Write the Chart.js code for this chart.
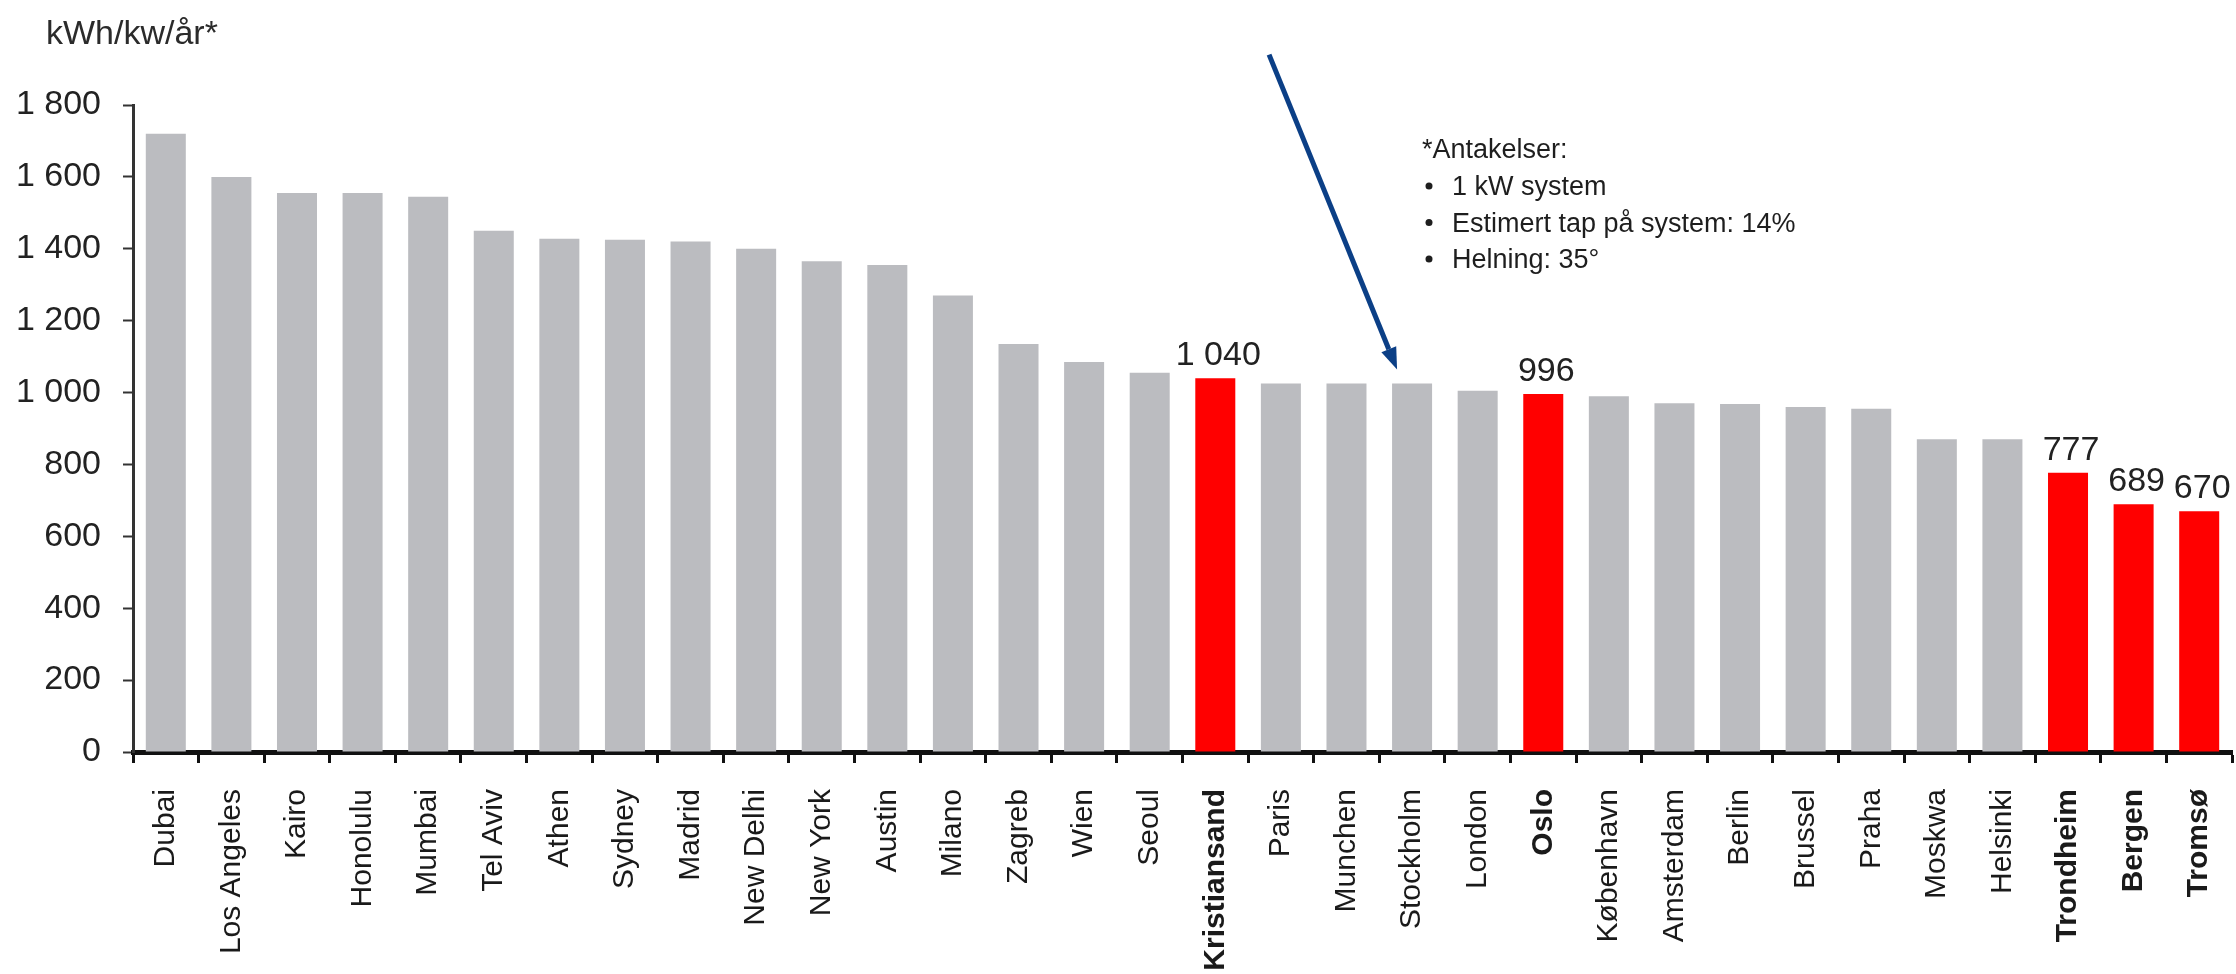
<!DOCTYPE html>
<html>
<head>
<meta charset="utf-8">
<script src="https://cdn.jsdelivr.net/npm/chart.js@4"></script>
<style>
  html, body { margin: 0; padding: 0; background: #fff; }
  #wrap { width: 2236px; height: 974px; }
</style>
</head>
<body>
<div id="wrap"><canvas id="chart" width="2236" height="974"></canvas></div>
<script>
// Annual solar yield per installed kW (kWh/kW/year)
const cities = ['Dubai', 'Los Angeles', 'Kairo', 'Honolulu', 'Mumbai', 'Tel Aviv', 'Athen', 'Sydney',
    'Madrid', 'New Delhi', 'New York', 'Austin', 'Milano', 'Zagreb', 'Wien', 'Seoul', 'Kristiansand',
    'Paris', 'Munchen', 'Stockholm', 'London', 'Oslo', 'København', 'Amsterdam', 'Berlin', 'Brussel',
    'Praha', 'Moskwa', 'Helsinki', 'Trondheim', 'Bergen', 'Tromsø'];
const yieldValues = [1720, 1600, 1555, 1555, 1545, 1450, 1428, 1425, 1420, 1400, 1365, 1355, 1270,
    1135, 1085, 1055, 1040, 1025, 1025, 1025, 1005, 996, 990, 970, 968, 960, 955, 870, 870, 777, 689, 670];
const norwegianCities = ['Kristiansand', 'Oslo', 'Trondheim', 'Bergen', 'Tromsø'];
const yTicks = [0, 200, 400, 600, 800, 1000, 1200, 1400, 1600, 1800];
const unitLabel = 'kWh/kw/år*';
const noteTitle = '*Antakelser:';
const noteItems = ['1 kW system', 'Estimert tap på system: 14%', 'Helning: 35°'];
const arrowTarget = 'Stockholm';

const FONT = '"Liberation Sans", Arial, sans-serif';
const isNorwegian = (i) => norwegianCities.includes(cities[i]);

// thousands separator with a space, like "1 040"
function fmt(v) {
    return String(v).replace(/\B(?=(\d{3})+(?!\d))/g, ' ');
}

// value labels above the highlighted bars
const valueLabels = {
    id: 'valueLabels',
    afterDatasetsDraw(chart) {
        const ctx = chart.ctx;
        const meta = chart.getDatasetMeta(0);
        ctx.save();
        ctx.font = '34px ' + FONT;
        ctx.fillStyle = '#222';
        ctx.textAlign = 'center';
        ctx.textBaseline = 'alphabetic';
        meta.data.forEach((bar, i) => {
            if (!isNorwegian(i)) return;
            ctx.fillText(fmt(yieldValues[i]), bar.x + 3, bar.y - 13);
        });
        ctx.restore();
    }
};

// unit label, assumptions note and the arrow
const extras = {
    id: 'extras',
    afterDraw(chart) {
        const ctx = chart.ctx;
        ctx.save();
        ctx.fillStyle = '#2b2b2b';
        ctx.font = '34px ' + FONT;
        ctx.textAlign = 'left';
        ctx.textBaseline = 'alphabetic';
        ctx.fillText(unitLabel, 46, 44);

        ctx.font = '27px ' + FONT;
        ctx.fillStyle = '#1e1e1e';
        ctx.fillText(noteTitle, 1422, 158);
        noteItems.forEach((t, k) => {
            const y = 195 + k * 36.5;
            ctx.beginPath();
            ctx.arc(1429, y - 9, 3.5, 0, Math.PI * 2);
            ctx.fill();
            ctx.fillText(t, 1452, y);
        });

        // arrow pointing at the Stockholm bar
        const bar = chart.getDatasetMeta(0).data[cities.indexOf(arrowTarget)];
        const tx = bar.x - 15, ty = bar.y - 14;
        const sx = tx - 128, sy = ty - 315;
        const ang = Math.atan2(ty - sy, tx - sx);
        const headLen = 22, headW = 8;
        const bx = tx - headLen * Math.cos(ang), by = ty - headLen * Math.sin(ang);
        ctx.strokeStyle = '#0b3f86';
        ctx.fillStyle = '#0b3f86';
        ctx.lineWidth = 5;
        ctx.beginPath();
        ctx.moveTo(sx, sy);
        ctx.lineTo(bx, by);
        ctx.stroke();
        ctx.beginPath();
        ctx.moveTo(tx, ty);
        ctx.lineTo(bx + headW * Math.sin(ang), by - headW * Math.cos(ang));
        ctx.lineTo(bx - headW * Math.sin(ang), by + headW * Math.cos(ang));
        ctx.closePath();
        ctx.fill();
        ctx.restore();
    }
};

new Chart(document.getElementById('chart'), {
    type: 'bar',
    data: {
        labels: cities,
        datasets: [{
            data: yieldValues,
            backgroundColor: cities.map((c, i) => isNorwegian(i) ? '#ff0000' : '#bbbcc0'),
            borderWidth: 0,
            barPercentage: 0.61,
            categoryPercentage: 1.0
        }]
    },
    options: {
        responsive: false,
        animation: false,
        layout: { padding: { top: 105, right: 4, bottom: 0, left: 0 } },
        plugins: {
            legend: { display: false },
            tooltip: { enabled: false }
        },
        scales: {
            x: {
                afterFit: (scale) => {
                    scale.height = 222;
                    scale.paddingLeft = 0;
                    scale.paddingRight = 0;
                },
                border: { display: true, color: '#111', width: 5 },
                grid: {
                    offset: true,
                    drawOnChartArea: false,
                    drawTicks: true,
                    tickLength: 11,
                    tickWidth: 3,
                    tickColor: '#111'
                },
                ticks: {
                    autoSkip: false,
                    minRotation: 90,
                    maxRotation: 90,
                    padding: 26,
                    color: '#1a1a1a',
                    font: (c) => ({
                        family: FONT,
                        size: 30,
                        weight: isNorwegian(c.index) ? 'bold' : 'normal'
                    })
                }
            },
            y: {
                min: 0,
                max: 1800,
                afterFit: (scale) => { scale.width = 133; },
                afterBuildTicks: (scale) => { scale.ticks = yTicks.map(v => ({ value: v })); },
                border: { display: true, color: '#333', width: 3 },
                grid: {
                    drawOnChartArea: false,
                    drawTicks: true,
                    tickLength: 10,
                    tickWidth: 2,
                    tickColor: '#333'
                },
                ticks: {
                    padding: 22,
                    color: '#222',
                    font: { family: FONT, size: 34 },
                    callback: (v) => fmt(v)
                }
            }
        }
    },
    plugins: [valueLabels, extras]
});
</script>
</body>
</html>
